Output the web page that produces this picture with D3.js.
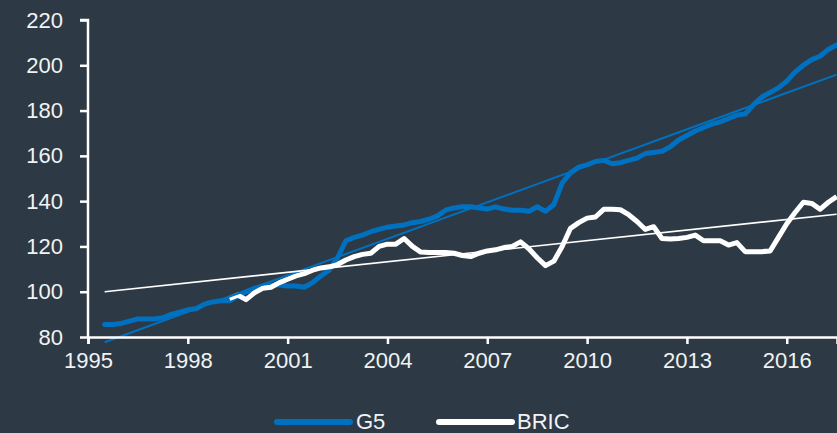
<!DOCTYPE html>
<html>
<head>
<meta charset="utf-8">
<script src="https://cdn.jsdelivr.net/npm/d3@7"></script>
<style>
  html, body { margin: 0; padding: 0; background: #2d3a45; }
  svg { display: block; font-family: "Liberation Sans", Arial, sans-serif; }
</style>
</head>
<body>
<div id="chart"></div>
<script>
// quarterly dates (decimal years)
const g5Start = 1995.5
const bricStart = 1999.25
const g5Values = [
  85.5, 85.5, 86, 87, 88, 88, 88, 88.5, 90, 91, 92, 92.5, 94.5, 95.5, 96, 96,
  98, 100, 101.5, 102.5, 103, 103, 102.5, 102.5, 102, 104, 107, 109.5, 115, 122.5,
  124, 125, 126.5, 127.5, 128.5, 129, 129.5, 130.5, 131, 132, 133.5, 136, 137, 137.5,
  137.5, 137, 136.5, 137.5, 136.5, 136, 136, 135.5, 137.5, 135.5, 138.5, 148, 152.5,
  155, 156, 157.5, 158, 156.5, 157, 158, 159, 161, 161.5, 162, 164, 167, 169, 171,
  172.5, 174, 175, 176.5, 178, 178.5, 182.5, 186, 188, 190, 193, 197, 200, 202.5,
  204, 207, 209
]
const bricValues = [
  97, 98.5, 96.5, 99.5, 101.5, 102, 104, 105.5, 107, 108, 109.5, 110.5, 111, 112,
  114, 115.5, 116.5, 117, 120, 121, 121, 123.5, 120, 117.5, 117.3, 117.3, 117.3, 117,
  116, 115.5, 117, 118, 118.5, 119.5, 120, 122, 119, 115, 111.5, 113.5, 120, 128,
  130.5, 132.5, 133, 136.4, 136.4, 136.2, 134, 131, 127.5, 128.7, 123.5, 123.3, 123.5,
  124, 125, 122.5, 122.5, 122.5, 120.6, 121.7, 117.7, 117.7, 117.7, 118, 124, 130,
  135, 139.5, 139, 136.4, 139.5, 142
]
const yTicks = [80, 100, 120, 140, 160, 180, 200, 220]
const xTicks = [1995, 1998, 2001, 2004, 2007, 2010, 2013, 2016]
const seriesNames = ['G5', 'BRIC']
const seriesColors = ['#0070c0', '#ffffff']

const width = 837, height = 433
const margin = { top: 20, right: 0, bottom: 96, left: 88 }

const toPoints = (start, vals) => vals.map((v, i) => ({ t: start + i / 4, v }))
const g5 = toPoints(g5Start, g5Values)
const bric = toPoints(bricStart, bricValues)

const svg = d3.select('#chart').append('svg')
  .attr('width', width).attr('height', height)

const x = d3.scaleLinear()
  .domain([1995, 2017.51])
  .range([margin.left, width - margin.right])
const y = d3.scaleLinear()
  .domain([80, 220])
  .range([height - margin.bottom, margin.top])

// least squares trend, drawn over the whole G5 span
function trend(pts) {
  const mx = d3.mean(pts, d => d.t), my = d3.mean(pts, d => d.v)
  const b = d3.sum(pts, d => (d.t - mx) * (d.v - my)) / d3.sum(pts, d => (d.t - mx) ** 2)
  const a = my - b * mx
  return [g5Start, 2017.5].map(t => ({ t, v: a + b * t }))
}

const line = d3.line().x(d => x(d.t)).y(d => y(d.v))

const plot = svg.append('g')
plot.append('path').datum(g5)
  .attr('fill', 'none').attr('stroke', seriesColors[0]).attr('stroke-width', 5)
  .attr('stroke-linejoin', 'round').attr('stroke-linecap', 'round').attr('d', line)
plot.append('path').datum(bric)
  .attr('fill', 'none').attr('stroke', seriesColors[1]).attr('stroke-width', 5)
  .attr('stroke-linejoin', 'round').attr('d', line)
plot.append('path').datum(trend(g5))
  .attr('fill', 'none').attr('stroke', seriesColors[0]).attr('stroke-width', 2).attr('d', line)
plot.append('path').datum(trend(bric))
  .attr('fill', 'none').attr('stroke', seriesColors[1]).attr('stroke-width', 1.6).attr('d', line)

// axes
const yAxis = svg.append('g')
  .attr('transform', `translate(${margin.left},0)`)
  .call(d3.axisLeft(y).tickValues(yTicks).tickSize(8).tickPadding(17))
const xAxis = svg.append('g')
  .attr('transform', `translate(0,${height - margin.bottom})`)
  .call(d3.axisBottom(x).tickValues(xTicks).tickFormat(d3.format('d')).tickSize(7).tickPadding(8))

for (const ax of [yAxis, xAxis]) {
  ax.select('.domain').attr('stroke', '#fff').attr('stroke-width', 2.5)
  ax.selectAll('.tick line').attr('stroke', '#fff').attr('stroke-width', 2.5)
  ax.selectAll('.tick text').attr('fill', '#f2f2f2').style('font-size', '22px')
    .style('font-family', '"Liberation Sans", Arial, sans-serif')
}
yAxis.select('.domain').attr('d', `M-8,${y(220)}H0V${y(80)}`)

// legend
const legendItems = [{ x0: 274, tx: 356 }, { x0: 436, tx: 517 }]
const legend = svg.append('g')
legendItems.forEach((p, i) => {
  legend.append('line')
    .attr('x1', p.x0 + 3).attr('x2', p.x0 + 76).attr('y1', 422).attr('y2', 422)
    .attr('stroke', seriesColors[i]).attr('stroke-width', 6).attr('stroke-linecap', 'round')
  legend.append('text')
    .attr('x', p.tx).attr('y', 429)
    .attr('fill', '#f2f2f2').style('font-size', '22px')
    .text(seriesNames[i])
})
</script>
</body>
</html>
